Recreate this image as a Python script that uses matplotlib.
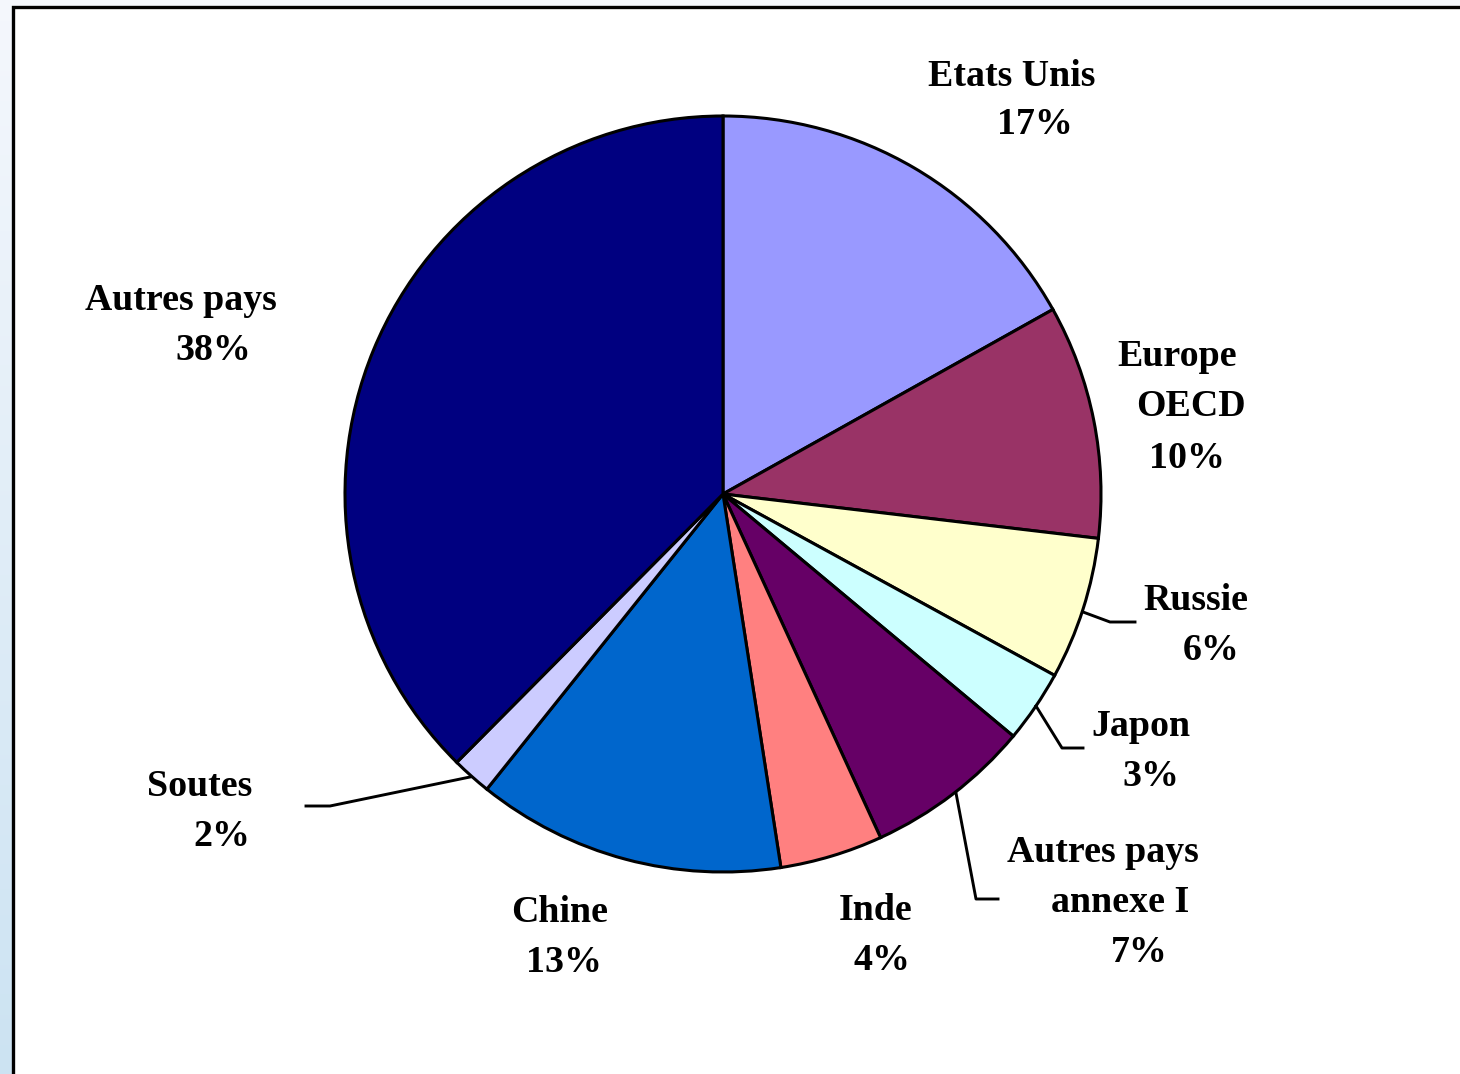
import numpy as np
import matplotlib.pyplot as plt
from matplotlib.patches import Rectangle

# data (share of emissions, %)
countries = ['Etats Unis', 'Europe\nOECD', 'Russie', 'Japon', 'Autres pays\nannexe I',
             'Inde', 'Chine', 'Soutes', 'Autres pays']
shares = [16.9, 10.0, 6.1, 3.1, 7.1, 4.4, 13.2, 1.7, 37.6]
colors = ['#9999FF', '#993366', '#FFFFCC', '#CCFFFF', '#660066',
          '#FF8080', '#0066CC', '#CCCCFF', '#000080']

W, H = 1460, 1074
fig = plt.figure(figsize=(W / 100, H / 100), dpi=100)

# light blue gradient strip behind the frame
bg = fig.add_axes([0, 0, 1, 1])
grad = np.linspace(0, 1, 256).reshape(-1, 1)
top = np.array([0.96, 0.97, 0.99])
bot = np.array([0.80, 0.89, 0.95])
img = top + (bot - top) * grad[:, :, None] * np.ones((1, 1, 3))
bg.imshow(img, aspect='auto', extent=[0, W, H, 0])
bg.set_xlim(0, W)
bg.set_ylim(H, 0)
bg.axis('off')

ax = fig.add_axes([0, 0, 1, 1])
ax.add_patch(Rectangle((13, -20), W + 40, H - 7 + 20, facecolor='white',
                       edgecolor='black', linewidth=2.4, zorder=0))

cx, cy, r = 723, H - 494, 378
ax.pie(shares, colors=colors, startangle=90, counterclock=False,
       center=(cx, cy), radius=r, frame=True,
       wedgeprops=dict(edgecolor='black', linewidth=2.2))
ax.set_xlim(0, W)
ax.set_ylim(0, H)
ax.set_aspect('equal')
ax.axis('off')

font = dict(family='Liberation Serif', weight='bold', size=27.3, color='black')

# label line centres (image pixel coords)
label_pos = [
    [(1012, 73), (1035, 122)],
    [(1177, 354), (1191, 403), (1187, 455)],
    [(1196, 597), (1211, 648)],
    [(1141, 724), (1151, 773)],
    [(1103, 850), (1120, 900), (1139, 950)],
    [(876, 907), (882, 957)],
    [(560, 910), (564, 960)],
    [(200, 783), (222, 834)],
    [(181, 297), (213, 348)],
]
for name, val, pos in zip(countries, shares, label_pos):
    lines = name.split('\n') + ['%d%%' % round(val)]
    for txt, (x, y) in zip(lines, pos):
        ax.text(x, H - y - 3, txt, ha='center', va='center', **font)

# leader lines
leaders = [
    [(1083, 612), (1110, 622), (1135, 622)],
    [(1036, 706), (1062, 748), (1083, 748)],
    [(956, 793), (976, 899), (998, 899)],
    [(470, 777), (330, 806), (306, 806)],
]
for pts in leaders:
    xs = [p[0] for p in pts]
    ys = [H - p[1] for p in pts]
    ax.plot(xs, ys, color='black', linewidth=2.1)

fig.savefig('out.png', dpi=100)
